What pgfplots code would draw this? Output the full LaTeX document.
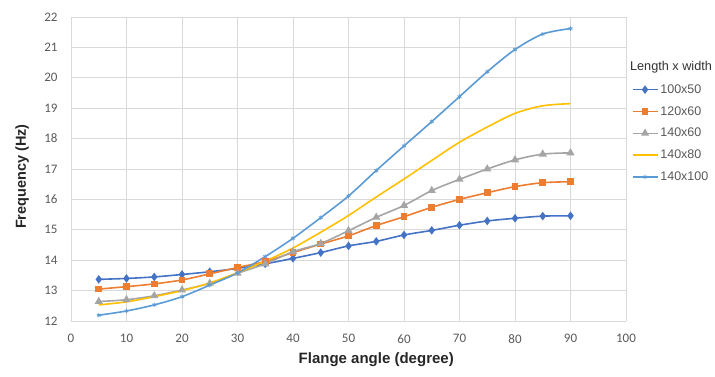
\documentclass[border=0pt]{standalone}
\usepackage{fontspec}
\setmainfont{Liberation Sans}
\newfontfamily\tickfont{Carlito}
\usepackage{pgfplots}
\usepackage{pgfplotstable}
\pgfplotsset{compat=1.18}
\definecolor{cA}{HTML}{4472C4}
\definecolor{cB}{HTML}{ED7D31}
\definecolor{cC}{HTML}{A5A5A5}
\definecolor{cD}{HTML}{FFC000}
\definecolor{cE}{HTML}{5B9BD5}
\definecolor{gridc}{HTML}{D9D9D9}
\definecolor{txt}{HTML}{595959}

\pgfplotstableread{
x a b c d e
5  13.37 13.05 12.64 12.53 12.19
10 13.40 13.13 12.70 12.63 12.33
15 13.45 13.22 12.83 12.80 12.53
20 13.53 13.35 13.02 13.00 12.80
25 13.62 13.55 13.24 13.25 13.18
30 13.73 13.76 13.57 13.59 13.58
35 13.88 13.96 13.88 13.97 14.12
40 14.06 14.25 14.28 14.40 14.72
45 14.25 14.53 14.55 14.92 15.40
50 14.47 14.80 14.97 15.47 16.11
55 14.62 15.14 15.41 16.08 16.95
60 14.83 15.43 15.80 16.67 17.76
65 14.98 15.74 16.29 17.28 18.56
70 15.15 16.00 16.66 17.88 19.38
75 15.29 16.22 17.00 18.38 20.20
80 15.38 16.42 17.30 18.83 20.93
85 15.45 16.55 17.49 19.08 21.44
90 15.46 16.58 17.53 19.15 21.62
}\datatable

\begin{document}
\begin{tikzpicture}
\useasboundingbox (-71pt,-55pt) rectangle (644pt,321pt);
\begin{axis}[
  at={(0,0)}, anchor=south west,
  scale only axis, width=555pt, height=304pt,
  xmin=0, xmax=100, ymin=12, ymax=22,
  xtick={0,10,...,100}, ytick={12,13,...,22},
  grid=major, major grid style={gridc, line width=0.8pt},
  axis line style={gridc, line width=0.8pt},
  major tick length=0pt,
  axis x line*=bottom, axis y line*=left,
  /pgf/number format/assume math mode=true,
  ticklabel style={font=\tickfont\fontsize{13}{15}\selectfont, text=txt},
  xticklabel style={yshift=-10pt},
  yticklabel style={xshift=-10pt},
  xlabel={Flange angle (degree)},
  ylabel={Frequency (Hz)},
  xlabel style={font=\bfseries\fontsize{15}{17}\selectfont, text=black!85, at={(axis description cs:0.55,-0.128)}, anchor=center},
  ylabel style={font=\bfseries\fontsize{14.5}{17}\selectfont, text=black!85, at={(axis description cs:-0.088,0.475)}, anchor=center, rotate=0},
  legend style={draw=none, fill=none, at={(axis description cs:1.01,0.785)}, anchor=north west,
    font=\fontsize{12.5}{14}\selectfont, text=txt, row sep=7.6pt, inner sep=0pt,
    legend cell align=left},
  legend image code/.code={\draw[mark repeat=2,mark phase=2] plot coordinates {(0pt,0pt) (12.5pt,0pt) (25pt,0pt)};},
  clip=false,
]
\addplot[cA, line width=1.6pt, smooth, mark=diamond*, mark size=3pt, mark options={solid, fill=cA}] table[x=x,y=a]{\datatable};
\addplot[cB, line width=1.6pt, smooth, mark=square*, mark size=2.6pt, mark options={solid, fill=cB}] table[x=x,y=b]{\datatable};
\addplot[cC, line width=1.6pt, smooth, mark=triangle*, mark size=3.2pt, mark options={solid, fill=cC}] table[x=x,y=c]{\datatable};
\addplot[cD, line width=1.6pt, smooth, no markers] table[x=x,y=d]{\datatable};
\addplot[cE, line width=1.6pt, smooth, mark=asterisk, mark size=2.2pt, mark options={solid, line width=0.8pt}] table[x=x,y=e]{\datatable};
\legend{100x50,120x60,140x60,140x80,140x100}
\node[anchor=west, font=\fontsize{12.7}{14}\selectfont, text=black!80, inner sep=0pt] at (axis description cs:1.007,0.835) {Length x width};
\end{axis}
\end{tikzpicture}
\end{document}
